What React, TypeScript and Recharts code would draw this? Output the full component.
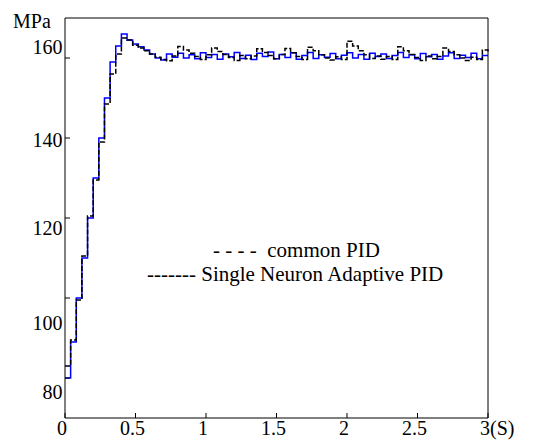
import { LineChart, Line, XAxis, YAxis, Legend } from "recharts";

const FONT = '"Liberation Serif", Tinos, "DejaVu Serif", serif';

// sample grid of the simulation, 0.04 s
const times = Array.from({ length: 76 }, (_, i) => +(i * 0.04).toFixed(2));

const seriesNames = ["common PID", "Single Neuron Adaptive PID"];

// blue trace
const adaptivePID = [
  80, 89, 100, 110, 120, 130, 140, 150, 159, 163,
  166, 164.5, 163.5, 162.8, 162, 161, 160, 159.5, 161, 160.2,
  161.2, 160, 160.8, 159.8, 161.3, 160.1, 160.9, 159.7, 161, 160.3,
  161.4, 159.9, 160.7, 159.6, 161.2, 160.4, 161.5, 159.8, 160.9, 160.1,
  161.3, 159.7, 160.6, 161.4, 159.9, 160.8, 160.2, 161.1, 159.8, 160.7,
  161.3, 160, 160.9, 159.7, 161.2, 160.4, 161, 159.9, 160.6, 161.4,
  160.1, 160.8, 159.8, 161.1, 160.3, 160.9, 159.7, 160.5, 161.3, 159.9,
  160.7, 160.1, 161.2, 159.8, 160.6, 160.6,
];

// black dashed trace
const commonPID = [
  83, 89.5, 99.5, 110.5, 120.5, 129.5, 139, 148.5, 156, 161,
  165, 164.5, 163.2, 162.5, 161.8, 161, 160.2, 159.6, 159.3, 160.5,
  162.9, 162, 161.2, 160.4, 159.6, 160.8, 162.5, 161.6, 160.9, 160.1,
  159.4, 160.6, 159.8, 160.5, 162.3, 161.4, 160.6, 159.8, 160.9, 162.4,
  161.3, 160.4, 159.6, 162.7, 161.8, 160.8, 160, 159.5, 160.3, 159.6,
  164.2, 163, 161.8, 160.8, 159.9, 160.5, 159.7, 160.4, 159.6, 162.8,
  161.8, 160.9, 160.1, 159.4, 160.5, 159.8, 160.4, 162.5, 161.6, 160.8,
  160, 159.4, 160.2, 159.6, 162, 161.5,
];

const xTicks = [0, 0.5, 1, 1.5, 2, 2.5, 3];
const topTicks = [0.5, 1, 1.5, 2, 2.5];
const yTicks = [80, 100, 120, 140, 160];

const data = times.map((t, i) => ({
  t,
  common: commonPID[i],
  adaptive: adaptivePID[i],
}));

// labels in the scanned figure sit a bit off their ticks
const yLabelShift: Record<number, number> = {
  80: 14,
  100: 25,
  120: 10,
  140: 1.5,
  160: -11.5,
};

function YTick(props: any) {
  const { x, y, payload } = props;
  return (
    <text
      x={x}
      y={y + (yLabelShift[payload.value] ?? 0)}
      dy="0.355em"
      textAnchor="end"
      fontFamily={FONT}
      fontSize={20}
      fill="#000"
    >
      {payload.value}
    </text>
  );
}

function XTick(props: any) {
  const { x, y, payload } = props;
  if (payload.value === 3) {
    return (
      <text x={x - 8} y={y} dy="0.71em" textAnchor="start" fontFamily={FONT} fontSize={20} fill="#000">
        3(S)
      </text>
    );
  }
  return (
    <text x={x - 3} y={y} dy="0.71em" textAnchor="middle" fontFamily={FONT} fontSize={20} fill="#000">
      {payload.value}
    </text>
  );
}

function LegendText() {
  return (
    <div
      style={{
        position: "relative",
        width: 545,
        height: 50,
        fontFamily: FONT,
        fontSize: 21,
        lineHeight: "21px",
        color: "#000",
        whiteSpace: "pre",
      }}
    >
      <div style={{ position: "absolute", left: 213, top: 0 }}>{"- - - -  " + seriesNames[0]}</div>
      <div style={{ position: "absolute", left: 147, top: 24 }}>{"------- " + seriesNames[1]}</div>
    </div>
  );
}

export default function App() {
  return (
    <div style={{ position: "absolute", left: 0, top: 0, width: 545, height: 441, background: "#fff" }}>
      <div
        style={{
          position: "absolute",
          left: 13,
          top: 11,
          fontFamily: FONT,
          fontSize: 20,
          lineHeight: "20px",
          color: "#000",
        }}
      >
        MPa
      </div>
      <LineChart
        width={545}
        height={441}
        data={data}
        margin={{ top: 17, right: 56, left: 0, bottom: 0 }}
      >
        <XAxis
          dataKey="t"
          type="number"
          domain={[0, 3]}
          ticks={xTicks}
          height={23}
          stroke="#000"
          tickSize={-5}
          tickMargin={8}
          tick={<XTick />}
        />
        <XAxis
          xAxisId="top"
          dataKey="t"
          orientation="top"
          type="number"
          domain={[0, 2.85]}
          allowDataOverflow
          ticks={topTicks}
          height={1}
          stroke="#000"
          tickSize={-5}
          tick={false}
        />
        <YAxis
          type="number"
          domain={[70, 170]}
          ticks={yTicks}
          width={65}
          stroke="#000"
          tickSize={-5}
          tickMargin={7.5}
          tick={<YTick />}
        />
        <YAxis
          yAxisId="right"
          orientation="right"
          type="number"
          domain={[70, 170]}
          allowDataOverflow
          ticks={yTicks}
          width={1}
          stroke="#000"
          tickSize={-5}
          tick={false}
        />
        <Legend
          layout="horizontal"
          verticalAlign="middle"
          align="center"
          wrapperStyle={{ left: 0, top: 240, width: 545 }}
          content={<LegendText />}
        />
        {/* invisible series so the frame axes get drawn */}
        <Line
          xAxisId="top"
          yAxisId="right"
          dataKey="adaptive"
          stroke="none"
          dot={false}
          legendType="none"
          isAnimationActive={false}
        />
        <Line
          type="stepAfter"
          dataKey="adaptive"
          name={seriesNames[1]}
          stroke="#0000ff"
          strokeWidth={1.5}
          dot={false}
          isAnimationActive={false}
        />
        <Line
          type="stepAfter"
          dataKey="common"
          name={seriesNames[0]}
          stroke="#000"
          strokeWidth={1.5}
          strokeDasharray="5 2"
          dot={false}
          isAnimationActive={false}
        />
      </LineChart>
    </div>
  );
}
